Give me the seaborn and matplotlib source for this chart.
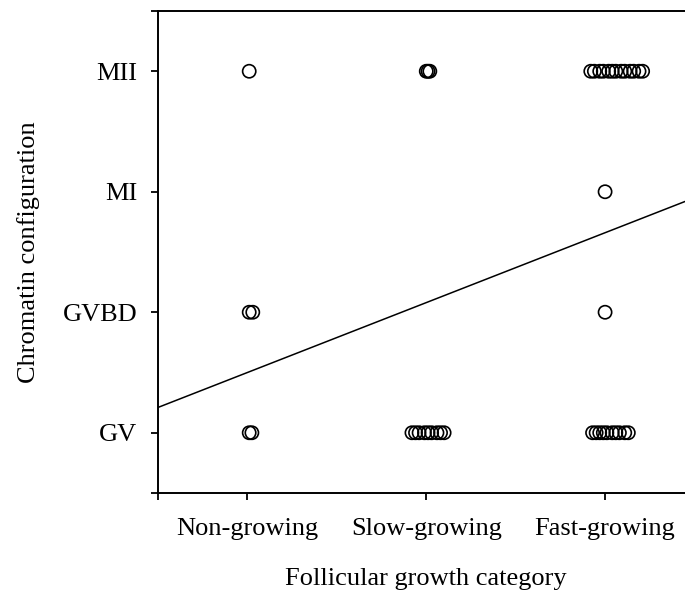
import matplotlib
matplotlib.use("Agg")
import matplotlib.pyplot as plt
import numpy as np
import pandas as pd
import seaborn as sns

# Follicular growth categories (x) and chromatin configurations (y)
categories = ["Non-growing", "Slow-growing", "Fast-growing"]
stages = ["GV", "GVBD", "MI", "MII"]

# Growth-axis positions of each oocyte, grouped by chromatin configuration
gv_x = [1.01, 1.025,
        1.92, 1.94, 1.96, 1.99, 2.01, 2.03, 2.06, 2.08, 2.10,
        2.93, 2.95, 2.97, 2.99, 3.01, 3.04, 3.06, 3.08, 3.11, 3.13]
gvbd_x = [1.01, 1.03, 3.00]
mi_x = [3.00]
mii_x = [1.01,
         2.00, 2.01, 2.02,
         2.92, 2.94, 2.97, 2.99, 3.02, 3.04, 3.06, 3.09, 3.11, 3.14, 3.16, 3.19, 3.21]

# Linear fit of configuration on growth category
fit_intercept = 0.92
fit_slope = 0.58

sns.set_theme(style="ticks")
plt.rcParams["font.family"] = ["Liberation Serif", "DejaVu Serif"]
plt.rcParams.update({"text.color": "black", "axes.labelcolor": "black",
                     "xtick.color": "black", "ytick.color": "black"})

df = pd.DataFrame({
    "growth": gv_x + gvbd_x + mi_x + mii_x,
    "stage": [1] * len(gv_x) + [2] * len(gvbd_x) + [3] * len(mi_x) + [4] * len(mii_x),
})

fig = plt.figure(figsize=(6.85, 5.96), dpi=100)
ax = fig.add_axes([158 / 685, 103 / 596, (694.5 - 158) / 685, 482 / 596])

sns.scatterplot(data=df, x="growth", y="stage", ax=ax, s=90, marker="o",
                facecolor="none", edgecolor="black", linewidth=1.2, zorder=3)

xlim = (0.5, 3.5)
fit_x = np.array(xlim)
sns.lineplot(x=fit_x, y=fit_intercept + fit_slope * fit_x, ax=ax,
             color="black", linewidth=1.1)

ax.set_xlim(*xlim)
ax.set_ylim(0.5, 4.5)
ax.set_xticks([0.5, 1, 2, 3])
ax.set_xticklabels([""] + categories)
ax.set_yticks([0.5, 1, 2, 3, 4, 4.5])
ax.set_yticklabels([""] + stages + [""])

ax.set_xlabel("Follicular growth category", fontsize=19, labelpad=20)
ax.set_ylabel("Chromatin configuration", fontsize=19, labelpad=16)
ax.tick_params(axis="both", labelsize=19, direction="out", length=5,
               width=1.3, color="black")
ax.tick_params(axis="y", pad=10)
ax.tick_params(axis="x", pad=13)

for side in ["left", "bottom", "top"]:
    ax.spines[side].set_linewidth(1.4)
    ax.spines[side].set_color("black")
ax.spines["right"].set_visible(False)

fig.savefig("out.png", dpi=100, facecolor="white")
